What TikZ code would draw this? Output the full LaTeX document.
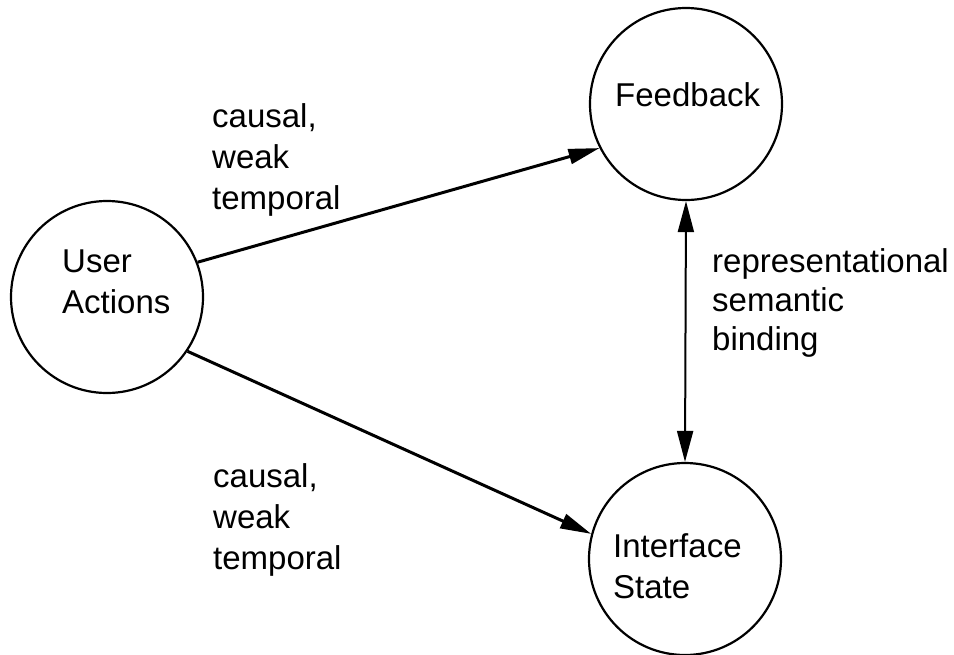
\documentclass[tikz,border=0pt]{standalone}
\usepackage{fontspec}
\setmainfont{Liberation Sans}
\usetikzlibrary{arrows.meta}
\begin{document}
\begin{tikzpicture}[x=1pt,y=-1pt,
  state/.style={circle,draw,line width=2.2pt,minimum size=192pt,inner sep=0pt},
  txt/.style={inner sep=0pt,anchor=base west,align=left,font=\fontsize{33}{41}\selectfont},
  conn/.style={line width=3pt,-{Triangle[length=31pt,width=15pt]}},
  biconn/.style={line width=2pt,{Triangle[length=31pt,width=16pt]}-{Triangle[length=31pt,width=16pt]}}]
\useasboundingbox (0,0) rectangle (954,654);
\node[state] (ua) at (107,297) {};
\node[state] (fb) at (686,104) {};
\node[state] (is) at (685,559) {};
\node[txt] (uat) at (62,313) {User\\Actions};
\node[txt] (fbt) at (615,106) {Feedback};
\node[txt] (ist) at (613,598) {Interface\\State};
\node[txt] (l1) at (212,209) {causal,\\weak\\temporal};
\node[txt] (l2) at (213,569) {causal,\\weak\\temporal};
\node[txt,font=\fontsize{33}{39}\selectfont] (l3) at (712,350) {representational\\semantic\\binding};
\draw[conn] (ua.21) -- (fb.207);
\draw[conn] (ua.-34) -- (is.165);
\draw[biconn] (fb.south) -- (is.north);
\end{tikzpicture}
\end{document}
